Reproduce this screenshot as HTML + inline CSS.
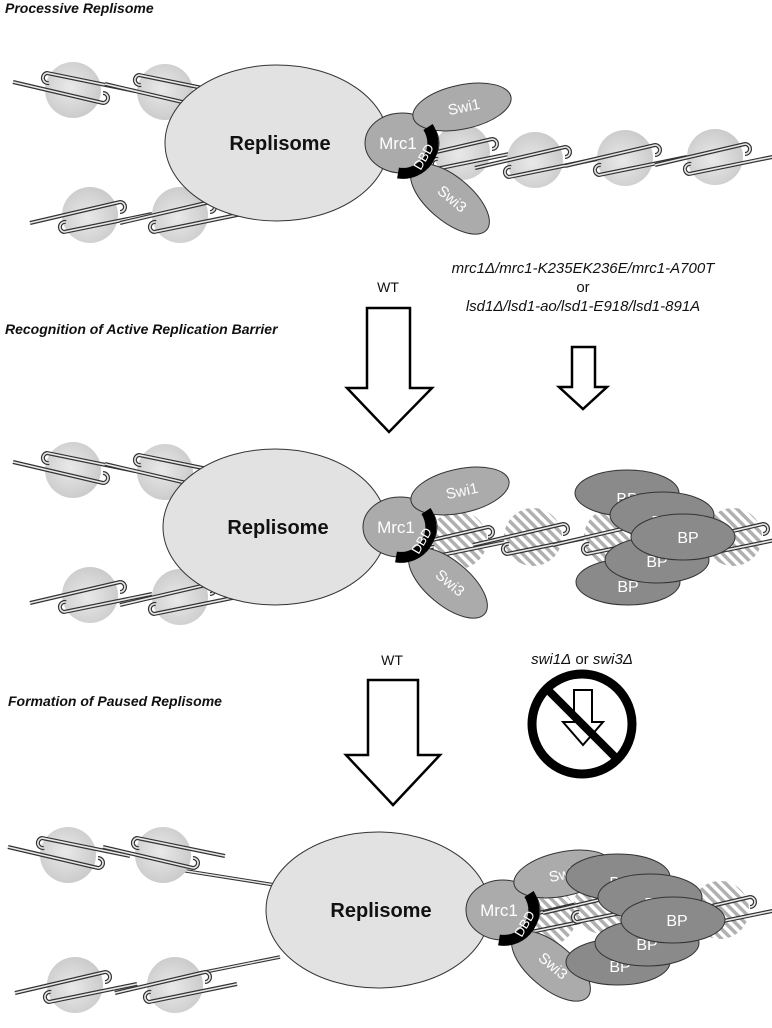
<!DOCTYPE html>
<html><head><meta charset="utf-8"><style>
html,body{margin:0;padding:0;background:#fff;}
svg{display:block;}
text{font-family:"Liberation Sans","DejaVu Sans",sans-serif;}
</style></head><body>
<svg width="772" height="1028" viewBox="0 0 772 1028" xmlns="http://www.w3.org/2000/svg">
<defs>
<radialGradient id="ng" cx="0.45" cy="0.45" r="0.6">
<stop offset="0" stop-color="#e9e9e9"/><stop offset="1" stop-color="#c9c9c9"/>
</radialGradient>
<pattern id="hatch" width="7" height="7" patternUnits="userSpaceOnUse" patternTransform="rotate(45)">
<rect width="7" height="7" fill="#fff"/><rect width="3.5" height="7" fill="#b0b0b0"/>
</pattern>
<path id="dna" d="M62,1 L-26,-17 A5,5 0 0 0 -24,-7 M-60,-8 L30,13 A5,5 0 0 0 30,3"/>
<g id="nuc">
<circle r="28" fill="url(#ng)"/>
<use href="#dna" fill="none" stroke="#333" stroke-width="4"/>
<use href="#dna" fill="none" stroke="#e8e8e8" stroke-width="1.6"/>
</g>
<g id="hnuc">
<circle r="29" fill="url(#hatch)"/>
<use href="#dna" fill="none" stroke="#333" stroke-width="4"/>
<use href="#dna" fill="none" stroke="#e8e8e8" stroke-width="1.6"/>
</g>
<g id="cx">
<ellipse cx="-125" cy="0" rx="112" ry="78" fill="#e2e2e2" stroke="#333" stroke-width="1"/>
<text x="-122" y="7" font-size="20" font-weight="bold" text-anchor="middle" fill="#111">Replisome</text>
<ellipse cx="0" cy="0" rx="37" ry="30" fill="#ababab" stroke="#333" stroke-width="1"/>
<ellipse cx="60" cy="-36" rx="50" ry="22" transform="rotate(-12 60 -36)" fill="#ababab" stroke="#333" stroke-width="1"/>
<ellipse cx="48" cy="56" rx="48" ry="22" transform="rotate(40 48 56)" fill="#ababab" stroke="#333" stroke-width="1"/>
<path d="M26,-16 A30,30 0 0 1 -4,30" fill="none" stroke="#000" stroke-width="11"/>
<text x="-4" y="6" font-size="17" fill="#fff" text-anchor="middle">Mrc1</text>
<text x="62" y="-31" font-size="15" fill="#fff" text-anchor="middle" transform="rotate(-12 62 -36)">Swi1</text>
<text x="50" y="61" font-size="15" fill="#fff" text-anchor="middle" transform="rotate(40 50 56)">Swi3</text>
<text x="22" y="18" font-size="13" fill="#fff" text-anchor="middle" transform="rotate(-60 22 14)">DBD</text>
</g>
</defs>

<text x="5" y="13" font-size="14" font-weight="bold" font-style="italic" fill="#111">Processive Replisome</text>
<text x="5" y="334" font-size="14" font-weight="bold" font-style="italic" fill="#111">Recognition of Active Replication Barrier</text>
<text x="8" y="706" font-size="14" font-weight="bold" font-style="italic" fill="#111">Formation of Paused Replisome</text>

<!-- Panel 1 -->
<use href="#nuc" x="73" y="90"/>
<use href="#nuc" x="165" y="92"/>
<use href="#nuc" transform="translate(90,215) scale(1,-1)"/>
<use href="#nuc" transform="translate(180,215) scale(1,-1)"/>
<use href="#nuc" transform="translate(462,152) scale(1,-1)"/>
<use href="#nuc" transform="translate(535,160) scale(1,-1)"/>
<use href="#nuc" transform="translate(625,158) scale(1,-1)"/>
<use href="#nuc" transform="translate(715,157) scale(1,-1)"/>
<use href="#cx" transform="translate(402,143)"/>

<text x="388" y="292" font-size="14" text-anchor="middle" fill="#111">WT</text>
<polygon points="367,308 410,308 410,388 432,388 389,432 347,388 367,388" fill="#fff" stroke="#000" stroke-width="2.5"/>
<text x="583" y="273" font-size="15" font-style="italic" text-anchor="middle" fill="#111">mrc1Δ/mrc1-K235EK236E/mrc1-A700T</text>
<text x="583" y="292" font-size="15" text-anchor="middle" fill="#111">or</text>
<text x="583" y="311" font-size="15" font-style="italic" text-anchor="middle" fill="#111">lsd1Δ/lsd1-ao/lsd1-E918/lsd1-891A</text>
<polygon points="572,347 595,347 595,387 607,387 583,409 559,387 572,387" fill="#fff" stroke="#000" stroke-width="2.5"/>

<!-- Panel 2 -->
<use href="#nuc" x="73" y="470"/>
<use href="#nuc" x="165" y="472"/>
<use href="#nuc" transform="translate(90,595) scale(1,-1)"/>
<use href="#nuc" transform="translate(180,597) scale(1,-1)"/>
<use href="#hnuc" transform="translate(458,540) scale(1,-1)"/>
<use href="#hnuc" transform="translate(533,537) scale(1,-1)"/>
<use href="#hnuc" transform="translate(613,537) scale(1,-1)"/>
<use href="#hnuc" transform="translate(733,537) scale(1,-1)"/>
<use href="#cx" transform="translate(400,527)"/>
<ellipse cx="627" cy="493" rx="52" ry="23" fill="#8a8a8a" stroke="#333"/>
<text x="627" y="504" font-size="16" fill="#fff" text-anchor="middle">BP</text>
<ellipse cx="628" cy="582" rx="52" ry="23" fill="#8a8a8a" stroke="#333"/>
<text x="628" y="592" font-size="16" fill="#fff" text-anchor="middle">BP</text>
<ellipse cx="662" cy="515" rx="52" ry="23" fill="#8a8a8a" stroke="#333"/>
<text x="662" y="527" font-size="16" fill="#fff" text-anchor="middle">BP</text>
<ellipse cx="657" cy="560" rx="52" ry="23" fill="#8a8a8a" stroke="#333"/>
<text x="657" y="567" font-size="16" fill="#fff" text-anchor="middle">BP</text>
<ellipse cx="683" cy="537" rx="52" ry="23" fill="#8a8a8a" stroke="#333"/>
<text x="688" y="543" font-size="16" fill="#fff" text-anchor="middle">BP</text>

<!-- Arrows 2 -->
<text x="392" y="665" font-size="14" text-anchor="middle" fill="#111">WT</text>
<polygon points="368,680 418,680 418,755 440,755 393,805 346,755 368,755" fill="#fff" stroke="#000" stroke-width="2.5"/>
<text x="582" y="664" font-size="15" text-anchor="middle" fill="#111"><tspan font-style="italic">swi1Δ</tspan> or <tspan font-style="italic">swi3Δ</tspan></text>
<polygon points="574,690 592,690 592,722 603,722 583,745 563,722 574,722" fill="#fff" stroke="#000" stroke-width="2"/>
<circle cx="582" cy="724" r="50" fill="none" stroke="#000" stroke-width="9"/>
<line x1="547" y1="689" x2="617" y2="759" stroke="#000" stroke-width="8"/>

<!-- Panel 3 -->
<line x1="180" y1="870" x2="275" y2="885" stroke="#333" stroke-width="3.5"/>
<line x1="180" y1="870" x2="275" y2="885" stroke="#e8e8e8" stroke-width="1.4"/>
<line x1="190" y1="975" x2="280" y2="957" stroke="#333" stroke-width="3.5"/>
<line x1="190" y1="975" x2="280" y2="957" stroke="#e8e8e8" stroke-width="1.4"/>
<use href="#nuc" x="68" y="855"/>
<use href="#nuc" x="163" y="855"/>
<use href="#nuc" transform="translate(75,985) scale(1,-1)"/>
<use href="#nuc" transform="translate(175,985) scale(1,-1)"/>
<use href="#hnuc" transform="translate(547,917) scale(1,-1)"/>
<use href="#hnuc" transform="translate(603,905) scale(1,-1)"/>
<use href="#hnuc" transform="translate(720,910) scale(1,-1)"/>
<use href="#cx" transform="translate(503,910)"/>
<ellipse cx="618" cy="877" rx="52" ry="23" fill="#8a8a8a" stroke="#333"/>
<text x="620" y="888" font-size="16" fill="#fff" text-anchor="middle">BP</text>
<ellipse cx="618" cy="962" rx="52" ry="23" fill="#8a8a8a" stroke="#333"/>
<text x="620" y="972" font-size="16" fill="#fff" text-anchor="middle">BP</text>
<ellipse cx="650" cy="897" rx="52" ry="23" fill="#8a8a8a" stroke="#333"/>
<text x="655" y="909" font-size="16" fill="#fff" text-anchor="middle">BP</text>
<ellipse cx="647" cy="943" rx="52" ry="23" fill="#8a8a8a" stroke="#333"/>
<text x="647" y="950" font-size="16" fill="#fff" text-anchor="middle">BP</text>
<ellipse cx="673" cy="920" rx="52" ry="23" fill="#8a8a8a" stroke="#333"/>
<text x="677" y="926" font-size="16" fill="#fff" text-anchor="middle">BP</text>
</svg>
</body></html>
